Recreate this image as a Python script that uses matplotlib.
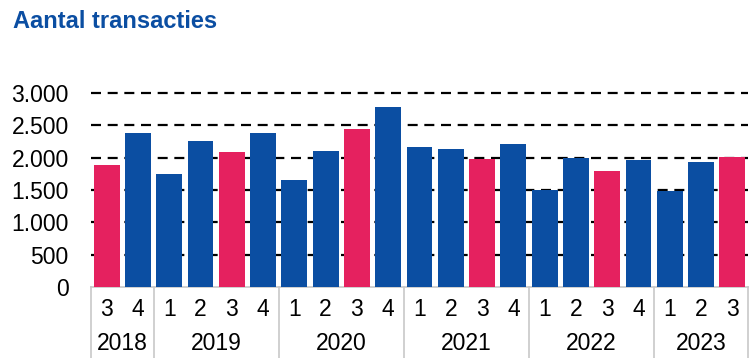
import matplotlib.pyplot as plt
from matplotlib.ticker import FuncFormatter
import matplotlib.transforms as mtransforms

plt.rcParams['font.family'] = ['Liberation Sans', 'DejaVu Sans']

# quarterly transaction counts, 2018 Q3 - 2023 Q3
quarters = ["3", "4", "1", "2", "3", "4", "1", "2", "3", "4",
            "1", "2", "3", "4", "1", "2", "3", "4", "1", "2", "3"]
values = [1880, 2380, 1750, 2265, 2085, 2380, 1660, 2100, 2450, 2780,
          2170, 2140, 1980, 2205, 1505, 1990, 1790, 1960, 1480, 1930, 2005]
years = ["2018", "2019", "2020", "2021", "2022", "2023"]
year_counts = [2, 4, 4, 4, 4, 3]

blue = "#0B4EA2"
pink = "#E5215F"
colors = [pink if q == "3" else blue for q in quarters]

fig = plt.figure(figsize=(7.52, 3.58), dpi=100)
ax = fig.add_axes([91/752, 1 - 287/358, (748 - 91)/752, (287 - 93)/358])

x = list(range(len(values)))
ax.bar(x, values, width=0.83, color=colors, zorder=3)

ax.set_ylim(0, 3000)
ax.set_xlim(-0.5, len(values) - 0.5)
ax.set_yticks(range(0, 3001, 500))
ax.yaxis.set_major_formatter(FuncFormatter(lambda v, p: f"{int(v):,}".replace(",", ".")))
for yv in range(500, 3001, 500):
    ax.axhline(yv, color="black", lw=1.6, ls=(0, (4.5, 3)), zorder=2, clip_on=False)

for s in ["top", "right", "left"]:
    ax.spines[s].set_visible(False)
ax.spines["bottom"].set_color("#C8C8C8")
ax.spines["bottom"].set_linewidth(1.2)

ax.tick_params(axis="y", length=0, pad=16, labelsize=16.5)
ax.tick_params(axis="x", length=0, pad=8, labelsize=16.5)
ax.set_xticks(x)
ax.set_xticklabels(quarters)

# year labels and separators below the axis
trans = mtransforms.blended_transform_factory(ax.transData, fig.transFigure)
start = -0.5
bounds = [start]
for yr, n in zip(years, year_counts):
    mid = start + n / 2
    ax.text(mid, 1 - 343/358, yr, transform=trans, ha="center", va="center", fontsize=16.5)
    start += n
    bounds.append(start)
for b in bounds:
    ax.plot([b, b], [0, 1 - 287/358], transform=trans, color="#C8C8C8", lw=1.2, clip_on=False)

fig.text(13/752, 1 - 22/358, "Aantal transacties", color="#0B4EA2", fontsize=17,
         fontweight="bold", ha="left", va="center")

fig.savefig("out.png", dpi=100)
